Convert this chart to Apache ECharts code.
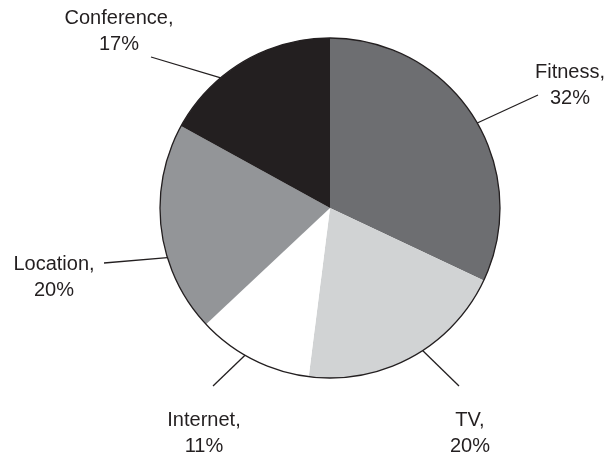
<!DOCTYPE html>
<html>
<head>
<meta charset="utf-8">
<script src="https://cdn.jsdelivr.net/npm/echarts@6/dist/echarts.min.js"></script>
<style>
html,body{margin:0;padding:0;background:#fff;}
#chart{width:609px;height:454px;}
</style>
</head>
<body>
<div id="chart"></div>
<script>
const categories = ['Fitness', 'TV', 'Internet', 'Location', 'Conference'];
const values = [32, 20, 11, 20, 17];
const colors = ['#6d6e71', '#d1d3d4', '#ffffff', '#939598', '#231f20'];

// layout (pixels)
const CX = 330, CY = 208, R = 170;
// label block centres, where the leader line meets the label, and leader attach angle (deg clockwise from top)
const labelPos = {
  'Fitness':    {x: 570, y: 85,  end: [538, 95],  ang: 60},
  'TV':         {x: 470, y: 433, end: [459, 386], ang: 147},
  'Internet':   {x: 204, y: 433, end: [213, 386], ang: 210},
  'Location':   {x: 54,  y: 277, end: [104, 263], ang: 253},
  'Conference': {x: 119, y: 31,  end: [151, 57],  ang: 320}
};

const data = categories.map((c, i) => ({
  name: c,
  value: values[i],
  itemStyle: {color: colors[i]}
}));

const chart = echarts.init(document.getElementById('chart'), null, {renderer: 'canvas'});
chart.setOption({
  backgroundColor: '#ffffff',
  animation: false,
  series: [
    {
      type: 'pie',
      center: [CX, CY],
      radius: [0, R],
      startAngle: 90,
      clockwise: true,
      avoidLabelOverlap: false,
      silent: true,
      itemStyle: {borderWidth: 0},
      data: data,
      label: {
        show: true,
        position: 'outside',
        formatter: '{b},\n{c}%',
        fontFamily: 'Liberation Sans, Arial, sans-serif',
        fontSize: 20,
        lineHeight: 26,
        color: '#231f20',
        align: 'center'
      },
      labelLine: {
        show: true,
        length: 20,
        length2: 0,
        lineStyle: {color: '#231f20', width: 1.3}
      },
      labelLayout: function (params) {
        const name = categories[params.dataIndex];
        const p = labelPos[name];
        const a = p.ang * Math.PI / 180;
        const ax = CX + R * Math.sin(a);
        const ay = CY - R * Math.cos(a);
        return {
          x: p.x,
          y: p.y,
          align: 'center',
          verticalAlign: 'middle',
          labelLinePoints: [[ax, ay], p.end]
        };
      }
    },
    {
      type: 'pie',
      center: [CX, CY],
      radius: [0, R],
      silent: true,
      z: 5,
      label: {show: false},
      labelLine: {show: false},
      itemStyle: {color: 'rgba(0,0,0,0)', borderColor: '#231f20', borderWidth: 1.3},
      data: [{name: 'outline', value: 1}]
    }
  ]
});
</script>
</body>
</html>
